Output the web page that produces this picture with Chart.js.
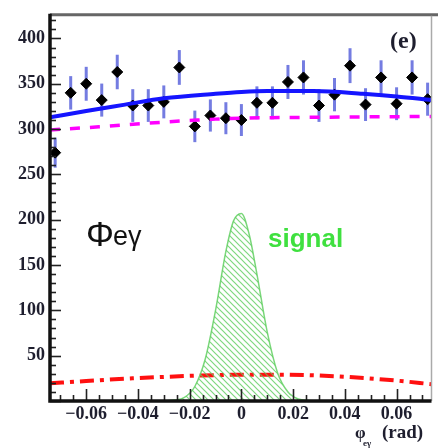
<!DOCTYPE html>
<html>
<head>
<meta charset="utf-8">
<script src="https://cdn.jsdelivr.net/npm/chart.js@4.4.1/dist/chart.umd.min.js"></script>
<style>
  html, body { margin: 0; padding: 0; background: #fff; }
  #wrap { width: 438px; height: 448px; }
</style>
</head>
<body>
<div id="wrap"><canvas id="phiChart" width="438" height="448"></canvas></div>
<script>
// measured bins (phi_e-gamma, rad) and counts
const binCenters = [-0.072, -0.066, -0.060, -0.054, -0.048, -0.042, -0.036, -0.030, -0.024, -0.018,
                    -0.012, -0.006, 0.000, 0.006, 0.012, 0.018, 0.024, 0.030, 0.036, 0.042,
                    0.048, 0.054, 0.060, 0.066, 0.072];
const counts = [274, 340, 350, 332, 363, 326, 326, 330, 368, 303,
                315, 312, 310, 329, 329, 352, 357, 326, 338, 370,
                327, 357, 328, 357, 333];

// fit curves
const totalX = [-0.074, -0.060, -0.045, -0.030, -0.010, 0.000, 0.010, 0.028, 0.047, 0.060, 0.0735];
const totalY = [313, 320, 327, 334, 339, 341, 342, 342, 339, 336, 332];

const bkgX = [-0.074, -0.055, -0.036, -0.017, -0.010, 0.000, 0.028, 0.0735];
const bkgY = [299, 302.5, 306.5, 310, 311, 312, 313, 314];

const otherX = [-0.074, -0.060, -0.042, -0.017, 0.000, 0.016, 0.041, 0.060, 0.0735];
const otherY = [19.5, 22, 25, 28, 29, 29, 26.5, 22.5, 18.5];

const signalX = [-0.030, -0.026, -0.022, -0.018, -0.014, -0.010, -0.006, -0.003, 0.000,
                 0.003, 0.006, 0.010, 0.014, 0.018, 0.022, 0.026, 0.030];
const signalY = [0, 1, 4, 16, 46, 100, 165, 199, 207, 184, 140, 76, 31, 10, 2.3, 0.6, 0];

const xTickValues = [-0.06, -0.04, -0.02, 0, 0.02, 0.04, 0.06];
const yTickValues = [50, 100, 150, 200, 250, 300, 350, 400];

const toXY = (xs, ys) => xs.map((x, i) => ({ x: x, y: ys[i] }));

function makeHatch() {
    const s = 6;
    const c = document.createElement('canvas');
    c.width = s; c.height = s;
    const g = c.getContext('2d');
    g.strokeStyle = 'rgba(95, 205, 95, 0.8)';
    g.lineWidth = 1.2;
    g.beginPath();
    g.moveTo(0, 0); g.lineTo(s, s);
    g.moveTo(-1, s - 1); g.lineTo(1, s + 1);
    g.moveTo(s - 1, -1); g.lineTo(s + 1, 1);
    g.stroke();
    return g.createPattern(c, 'repeat');
}

const POINTS_INDEX = 4;

const errorBars = {
    id: 'errorBars',
    beforeDatasetDraw(chart, args) {
        if (args.index !== POINTS_INDEX) return;
        const ctx = chart.ctx;
        const xs = chart.scales.x, ys = chart.scales.y;
        ctx.save();
        ctx.strokeStyle = 'rgba(70, 80, 215, 0.75)';
        ctx.lineWidth = 3;
        binCenters.forEach((x, i) => {
            const e = Math.sqrt(counts[i]);
            const px = xs.getPixelForValue(x);
            ctx.beginPath();
            ctx.moveTo(px, ys.getPixelForValue(counts[i] - e));
            ctx.lineTo(px, ys.getPixelForValue(counts[i] + e));
            ctx.stroke();
        });
        ctx.restore();
    }
};

const frameAndText = {
    id: 'frameAndText',
    afterDraw(chart) {
        const ctx = chart.ctx;
        const a = chart.chartArea;
        const xs = chart.scales.x, ys = chart.scales.y;
        ctx.save();
        // inward ticks
        ctx.strokeStyle = '#222';
        ctx.lineWidth = 1.6;
        for (let v = 0; v <= 420; v += 10) {
            const py = Math.round(ys.getPixelForValue(v)) + 0.5;
            const len = v % 50 === 0 ? 11 : 6;
            ctx.beginPath(); ctx.moveTo(a.left, py); ctx.lineTo(a.left + len, py); ctx.stroke();
        }
        for (let k = -14; k <= 14; k++) {
            const v = k * 0.005;
            const px = Math.round(xs.getPixelForValue(v)) + 0.5;
            const len = k % 4 === 0 ? 12 : 6;
            ctx.beginPath(); ctx.moveTo(px, a.bottom); ctx.lineTo(px, a.bottom - len); ctx.stroke();
        }
        // frame
        ctx.strokeStyle = '#666';
        ctx.lineWidth = 3;
        ctx.beginPath(); ctx.moveTo(a.left, a.top - 1); ctx.lineTo(438, a.top - 1); ctx.stroke();
        ctx.strokeStyle = '#aaa';
        ctx.lineWidth = 1.5;
        ctx.beginPath(); ctx.moveTo(a.right, a.top); ctx.lineTo(a.right, a.bottom); ctx.stroke();
        ctx.strokeStyle = '#111';
        ctx.lineWidth = 3.5;
        ctx.beginPath(); ctx.moveTo(a.left, a.top - 2); ctx.lineTo(a.left, a.bottom); ctx.lineTo(a.right, a.bottom); ctx.stroke();

        // labels
        ctx.fillStyle = '#111';
        ctx.textBaseline = 'alphabetic';
        ctx.font = '35px "Liberation Sans", Arial, sans-serif';
        ctx.fillText('Φ', 86, 246);
        ctx.font = '27px "Liberation Sans", Arial, sans-serif';
        ctx.fillText('eγ', 113, 245);

        ctx.fillStyle = '#3fe03f';
        ctx.font = 'bold 26px "Liberation Sans", Arial, sans-serif';
        ctx.fillText('signal', 268, 247);

        ctx.fillStyle = '#1e1e2e';
        ctx.font = 'bold 24px "Liberation Serif", "Times New Roman", serif';
        ctx.fillText('(e)', 390, 48);

        ctx.font = 'bold 17px "Liberation Serif", "Times New Roman", serif';
        ctx.fillText('φ', 355, 438);
        ctx.font = 'bold 9px "Liberation Serif", "Times New Roman", serif';
        ctx.fillText('eγ', 363, 446);
        ctx.font = 'bold 19px "Liberation Serif", "Times New Roman", serif';
        ctx.fillText('(rad)', 382, 438);
        ctx.restore();
    }
};

const tickFont = { family: '"Liberation Serif", "Times New Roman", serif', size: 18, weight: 'bold' };

const phiChart = new Chart(document.getElementById('phiChart').getContext('2d'), {
    type: 'line',
    data: {
        datasets: [
            {
                label: 'signal',
                data: toXY(signalX, signalY),
                borderColor: 'rgba(90, 205, 90, 0.8)',
                borderWidth: 1.5,
                backgroundColor: makeHatch(),
                fill: 'origin',
                pointRadius: 0,
                cubicInterpolationMode: 'monotone'
            },
            {
                label: 'other',
                data: toXY(otherX, otherY),
                borderColor: '#ff1010',
                borderWidth: 4,
                borderDash: [14, 6, 4, 6],
                pointRadius: 0,
                fill: false,
                cubicInterpolationMode: 'monotone'
            },
            {
                label: 'background',
                data: toXY(bkgX, bkgY),
                borderColor: '#ff00ff',
                borderWidth: 3.5,
                borderDash: [10, 10],
                pointRadius: 0,
                fill: false,
                cubicInterpolationMode: 'monotone'
            },
            {
                label: 'total',
                data: toXY(totalX, totalY),
                borderColor: '#1515ff',
                borderWidth: 4,
                pointRadius: 0,
                fill: false,
                cubicInterpolationMode: 'monotone'
            },
            {
                label: 'data',
                data: toXY(binCenters, counts),
                showLine: false,
                pointStyle: 'rectRot',
                pointRadius: 5.5,
                pointBackgroundColor: '#000',
                pointBorderColor: '#000',
                pointBorderWidth: 1
            }
        ]
    },
    options: {
        responsive: false,
        animation: false,
        layout: { padding: { top: 10, right: 2, left: 0, bottom: 0 } },
        plugins: {
            legend: { display: false },
            tooltip: { enabled: false }
        },
        scales: {
            x: {
                type: 'linear',
                min: -0.074,
                max: 0.0735,
                grid: { display: false, drawTicks: false },
                border: { display: false },
                afterFit: function(scale) { scale.height = 47; },
                afterBuildTicks: function(scale) {
                    scale.ticks = xTickValues.map(v => ({ value: v }));
                },
                ticks: {
                    padding: 3,
                    maxRotation: 0,
                    autoSkip: false,
                    color: '#1e1e2e',
                    font: tickFont,
                    callback: function(value) {
                        if (Math.abs(value) < 1e-9) return '0';
                        return (value < 0 ? '\u2212' : '') + Math.abs(value).toFixed(2);
                    }
                }
            },
            y: {
                min: 0,
                max: 425,
                grid: { display: false, drawTicks: false },
                border: { display: false },
                afterFit: function(scale) { scale.width = 50; },
                afterBuildTicks: function(scale) {
                    scale.ticks = yTickValues.map(v => ({ value: v }));
                },
                ticks: {
                    padding: 5,
                    color: '#1e1e2e',
                    font: tickFont
                }
            }
        }
    },
    plugins: [errorBars, frameAndText]
});
</script>
</body>
</html>
